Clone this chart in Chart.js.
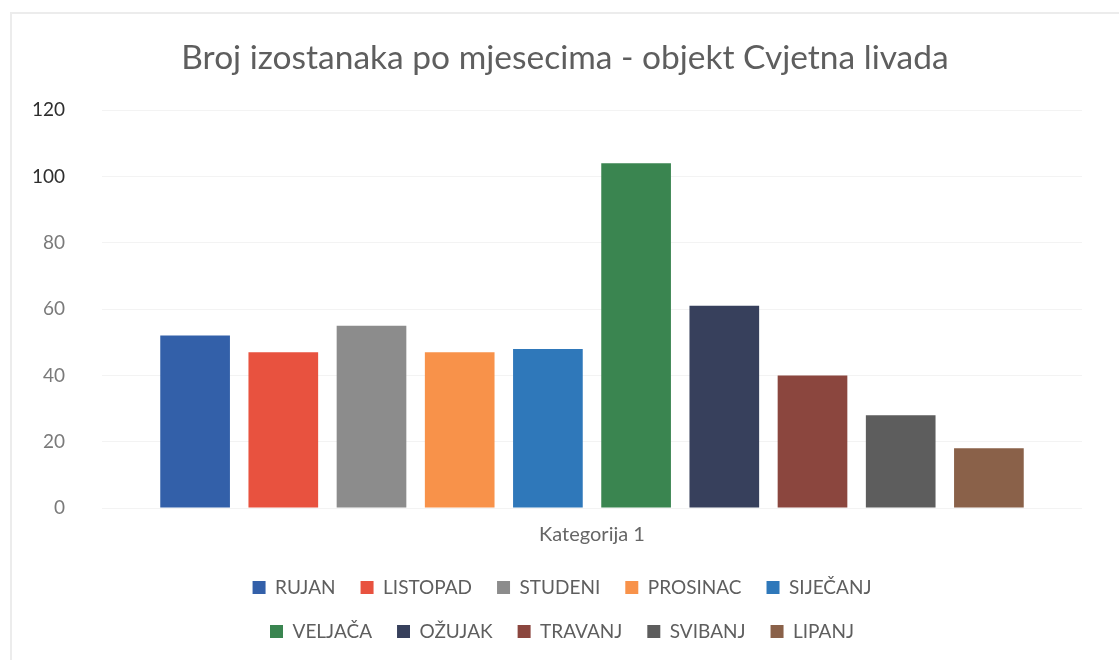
<!DOCTYPE html>
<html>
<head>
<meta charset="utf-8">
<script src="https://cdn.jsdelivr.net/npm/chart.js@4.4.1/dist/chart.umd.min.js"></script>
<style>
	html, body { margin: 0; padding: 0; background: #fff; }
	#wrap { position: relative; width: 1119px; height: 660px; }
	#frame { position: absolute; left: 10px; top: 12px; right: -2px; bottom: -2px; border-left: 2px solid #ececec; border-top: 2px solid #ececec; }
	canvas { position: absolute; left: 0; top: 0; }
</style>
</head>
<body>
<div id="wrap">
	<div id="frame"></div>
	<canvas id="chart" width="1119" height="660"></canvas>
</div>
<script>
var categories = ['Kategorija 1'];
var months = ['RUJAN', 'LISTOPAD', 'STUDENI', 'PROSINAC', 'SIJEČANJ', 'VELJAČA', 'OŽUJAK', 'TRAVANJ', 'SVIBANJ', 'LIPANJ'];
var absences = [52, 47, 55, 47, 48, 104, 61, 40, 28, 18];
var colors = ['#3360a9', '#e8523f', '#8c8c8c', '#f8924a', '#2f78ba', '#3a8550', '#37405c', '#8b463e', '#5d5d5d', '#8a6149'];
var yTicks = [0, 20, 40, 60, 80, 100, 120];

var textColor = '#5e5e5e';
var fontFamily = 'Lato, "Open Sans", sans-serif';

var legendLeft = 212;
var legendWidth = 700;

var datasets = [];
for (var i = 0; i < months.length; i++) {
	datasets.push({
		label: months[i],
		data: [absences[i]],
		backgroundColor: colors[i],
		borderWidth: 0
	});
}

// legend in two rows of five, title a bit right, like the original
var legendRows = {
	id: 'legendRows',
	beforeLayout: function(chart) {
		var leg = chart.legend;
		if (leg && !leg._rowsWrapped) {
			var orig = leg.update;
			leg.update = function(w, h, m) {
				orig.call(this, Math.min(w, legendWidth), h, m);
			};
			leg._rowsWrapped = true;
		}
	},
	afterLayout: function(chart) {
		chart.legend.left = legendLeft;
		chart.legend.right = legendLeft + legendWidth;
		chart.titleBlock.left += 14;
		chart.titleBlock.right += 14;
	}
};

var ctx = document.getElementById('chart').getContext('2d');
window.chart = new Chart(ctx, {
	type: 'bar',
	data: {
		labels: categories,
		datasets: datasets
	},
	plugins: [legendRows],
	options: {
		responsive: false,
		animation: false,
		layout: {
			padding: { left: 20, right: 37, top: 10, bottom: 9 }
		},
		categoryPercentage: 0.9,
		barPercentage: 0.79,
		plugins: {
			title: {
				display: true,
				text: 'Broj izostanaka po mjesecima - objekt Cvjetna livada',
				color: textColor,
				font: { family: fontFamily, size: 33.5, weight: 'normal' },
				padding: { top: 28, bottom: 32 }
			},
			legend: {
				position: 'bottom',
				labels: {
					color: textColor,
					font: { family: fontFamily, size: 19 },
					boxWidth: 13,
					boxHeight: 13,
					padding: 25
				}
			},
			tooltip: { enabled: false }
		},
		scales: {
			x: {
				afterFit: function(scale) { scale.height = 45; },
				grid: { display: false },
				border: { display: false },
				ticks: {
					color: '#666666',
					font: { family: fontFamily, size: 20 },
					padding: 7
				}
			},
			y: {
				min: 0,
				max: 120,
				afterFit: function(scale) { scale.width = 82; },
				afterBuildTicks: function(scale) {
					scale.ticks = yTicks.map(function(v) { return { value: v }; });
				},
				grid: { color: '#f3f3f3', drawTicks: false },
				border: { display: false },
				ticks: {
					color: function(c) { return c.tick.value >= 100 ? '#2e2e2e' : '#7a7a7a'; },
					font: { family: fontFamily, size: 19 },
					padding: 37
				}
			}
		}
	}
});
</script>
</body>
</html>
